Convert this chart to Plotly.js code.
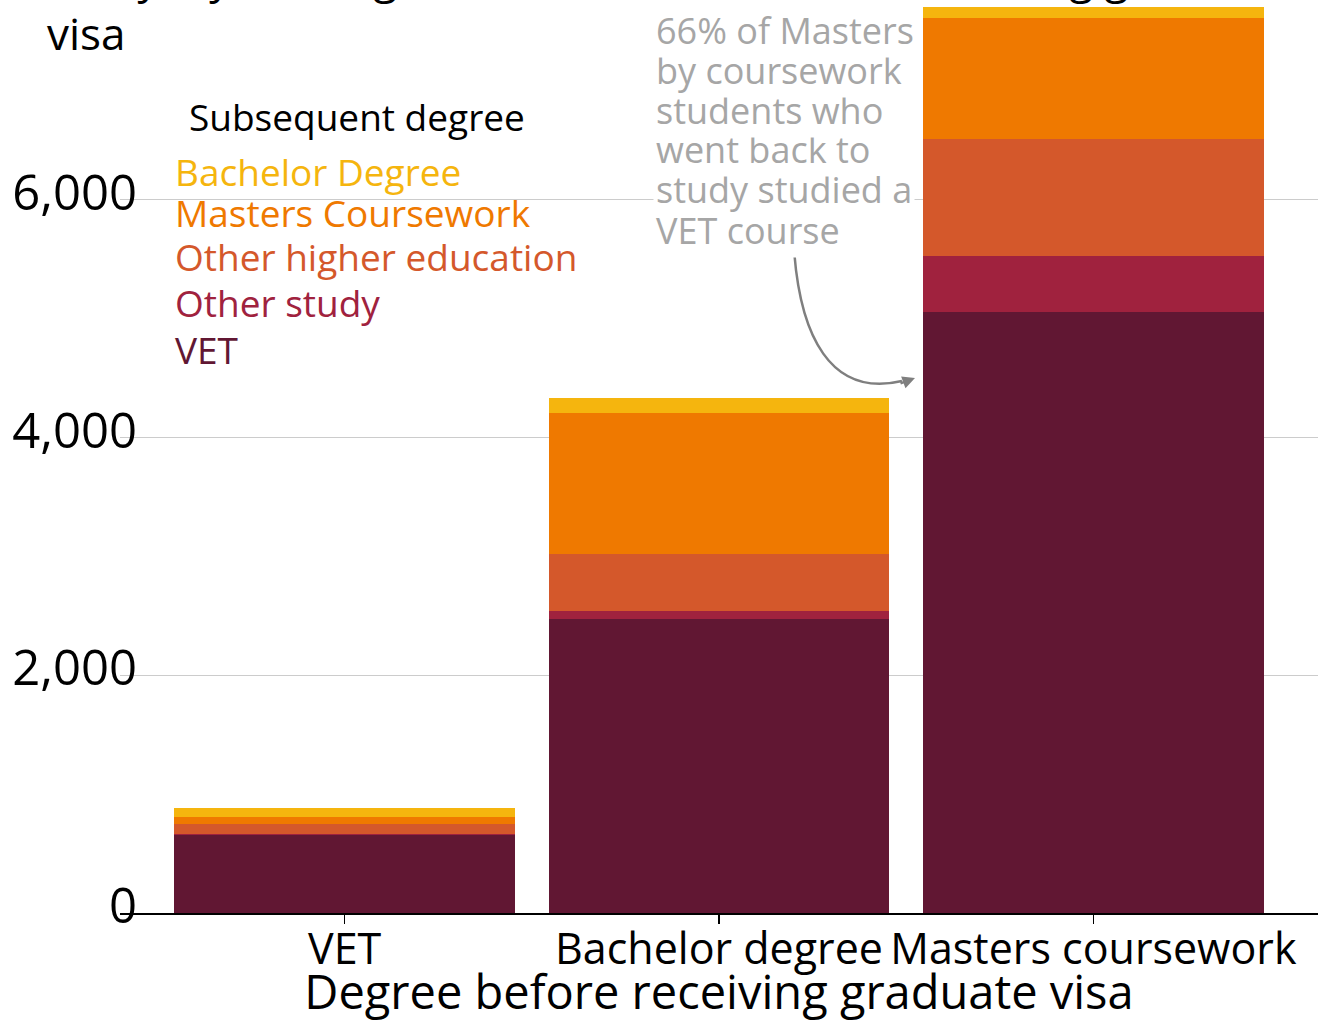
<!DOCTYPE html>
<html><head><meta charset="utf-8">
<script src="https://cdn.plot.ly/plotly-3.0.1.min.js"></script>
<style>html,body{margin:0;padding:0;background:#fff}</style>
</head><body><div id="chart" style="width:1335px;height:1023px"></div>
<script>
// ---- data ----
const categories = ['VET', 'Bachelor degree', 'Masters coursework'];
const vet = [657, 2476, 5059];
const otherStudy = [8, 67, 468];
const otherHigherEd = [87, 477, 985];
const mastersCoursework = [54, 1187, 1014];
const bachelorDegree = [78, 129, 95];
const seriesNames = ['VET', 'Other study', 'Other higher education', 'Masters Coursework', 'Bachelor Degree'];
const seriesValues = [vet, otherStudy, otherHigherEd, mastersCoursework, bachelorDegree];
const seriesColors = ['#611733', '#a0223e', '#d4582b', '#ef7900', '#f5b50e'];
const yTickValues = [0, 2000, 4000, 6000];
const yTickLabels = ['0', '2,000', '4,000', '6,000'];
const legendTitle = 'Subsequent degree';
const noteLines = ['66% of Masters', 'by coursework', 'students who', 'went back to', 'study studied a', 'VET course'];
const chartTitle = 'study, by the degree obtained before first receiving graduate<br>visa';
const xTitle = 'Degree before receiving graduate visa';

// ---- layout helpers (pixel -> paper) ----
const W = 1335, H = 1023, L = 120, R = 17, T = 0, B = 110;
const PW = W - L - R, PH = H - T - B;
const px = v => (v - L) / PW;
const py = v => (H - B - v) / PH;
const FONT = 'Open Sans';

const traces = seriesNames.map((n, i) => ({
  type: 'bar', x: categories, y: seriesValues[i], name: n,
  marker: {color: seriesColors[i], line: {width: 0}},
  showlegend: false, hovertemplate: n + ': %{y}<extra></extra>'
}));

const annotations = [];
// legend as coloured text
annotations.push({xref: 'paper', yref: 'paper', x: px(187), y: py(117), xanchor: 'left', yanchor: 'middle',
  text: legendTitle, showarrow: false, font: {family: FONT, size: 37, color: '#000'}});
const legendRows = [171, 213, 256, 302, 349];
for (let k = 0; k < seriesNames.length; k++) {
  const i = seriesNames.length - 1 - k;
  annotations.push({xref: 'paper', yref: 'paper', x: px(173), y: py(legendRows[k]), xanchor: 'left', yanchor: 'middle',
    text: seriesNames[i], showarrow: false, font: {family: FONT, size: 37, color: seriesColors[i]}});
}
// note lines (added bottom to top)
for (let k = noteLines.length - 1; k >= 0; k--) {
  annotations.push({xref: 'paper', yref: 'paper', x: px(653), y: py(30 + 40 * k), xanchor: 'left', yanchor: 'middle',
    text: noteLines[k], showarrow: false, bgcolor: '#ffffff', borderpad: 2,
    font: {family: FONT, size: 36, color: '#a6a6a6'}});
}
// arrow head
annotations.push({xref: 'paper', yref: 'paper', x: px(915), y: py(378), ax: -16, ay: 6, axref: 'pixel', ayref: 'pixel',
  text: '', showarrow: true, arrowhead: 2, arrowsize: 1, arrowwidth: 2.5, arrowcolor: '#7f7f7f'});

const shapes = [{
  type: 'path', xref: 'paper', yref: 'paper',
  path: `M ${px(794)},${py(249)} C ${px(800)},${py(335)} ${px(830)},${py(398)} ${px(902)},${py(381)}`,
  line: {color: '#7f7f7f', width: 2.5}
}];

const layout = {
  width: W, height: H,
  margin: {l: L, r: R, t: T, b: B, pad: 0},
  paper_bgcolor: '#ffffff', plot_bgcolor: '#ffffff',
  font: {family: FONT, color: '#000'},
  barmode: 'stack', bargap: 0.09,
  title: {text: chartTitle, font: {family: FONT, size: 44, color: '#000'},
    xref: 'container', x: 47 / W, xanchor: 'left', yref: 'container', y: 1, yanchor: 'bottom',
    pad: {b: 7}},
  xaxis: {type: 'category', range: [-0.6, 2.6], showgrid: false, zeroline: false,
    showline: true, linecolor: '#000', linewidth: 2,
    ticks: 'outside', ticklen: 9, tickwidth: 1.5, tickcolor: '#000', tickangle: 0,
    tickfont: {family: FONT, size: 43, color: '#000'}, ticklabelstandoff: -12,
    title: {text: xTitle, font: {family: FONT, size: 47, color: '#000'}, standoff: 7},
    automargin: false, fixedrange: true},
  yaxis: {range: [0, 7680], tickvals: yTickValues, ticktext: yTickLabels,
    showgrid: true, gridcolor: '#cccccc', gridwidth: 1, zeroline: false, showline: false, ticks: '',
    tickfont: {family: FONT, size: 49, color: '#000'}, ticklabelstandoff: -18, ticklabelshift: -7,
    automargin: false, fixedrange: true},
  annotations: annotations, shapes: shapes
};

Plotly.newPlot('chart', traces, layout, {displayModeBar: false, staticPlot: true});
</script></body></html>
